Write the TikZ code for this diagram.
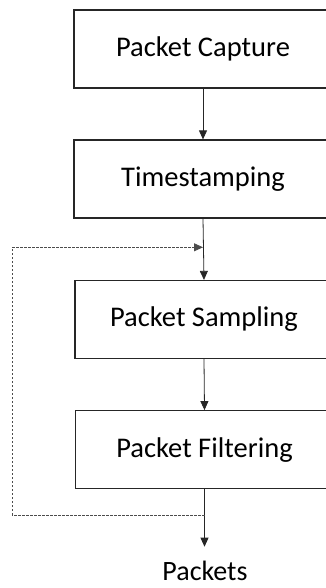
\documentclass[tikz,border=0pt]{standalone}
\usepackage{fontspec}
\setmainfont{Carlito}
\usetikzlibrary{arrows.meta}
\begin{document}
\begin{tikzpicture}[x=1pt,y=-1pt,
  stage/.style={draw=black!85,line width=1.2pt,rectangle,minimum width=258pt,
    minimum height=78pt,inner sep=0pt,font=\fontsize{28.5}{32}\selectfont},
  flow/.style={draw=black!85,line width=0.8pt,-{Triangle[length=9pt,width=8pt]}},
  loop/.style={draw=black!70,line width=0.8pt,dash pattern=on 2.5pt off 1.5pt},
  lbl/.style={font=\fontsize{28}{32}\selectfont,inner sep=0pt,text depth=0pt}]
\useasboundingbox (0,0) rectangle (326,588);
% processing stages, cut off by the right-hand edge of the page
\begin{scope}
\clip (0,0) rectangle (326,588);
\node[stage] (cap)  at (203,49)  {Packet Capture};
\node[stage] (ts)   at (203,179) {Timestamping};
\node[stage] (samp) at (204,319.5) {Packet Sampling};
\node[stage] (filt) at (204.5,449.7) {Packet Filtering};
\end{scope}
\node[lbl,anchor=base] (out) at (205,580.5) {Packets};
% forward flow
\draw[flow] (cap.south) -- (ts.north);
\draw[flow] (ts.south) -- (samp.north);
\draw[flow] (samp.south) -- (filt.north);
\coordinate (outtop) at (204.5,546.7);
\draw[flow] (filt.south) -- (outtop);
% feedback loop from the output back into sampling
\coordinate (fbout) at (204.5,515);
\coordinate (fbin)  at (203,247.3);
\coordinate (fbcorner) at (12.3,515);
\draw[loop,-{Triangle[length=9pt,width=8pt]}] (fbout) -- (fbcorner) |- (fbin);
\end{tikzpicture}
\end{document}
